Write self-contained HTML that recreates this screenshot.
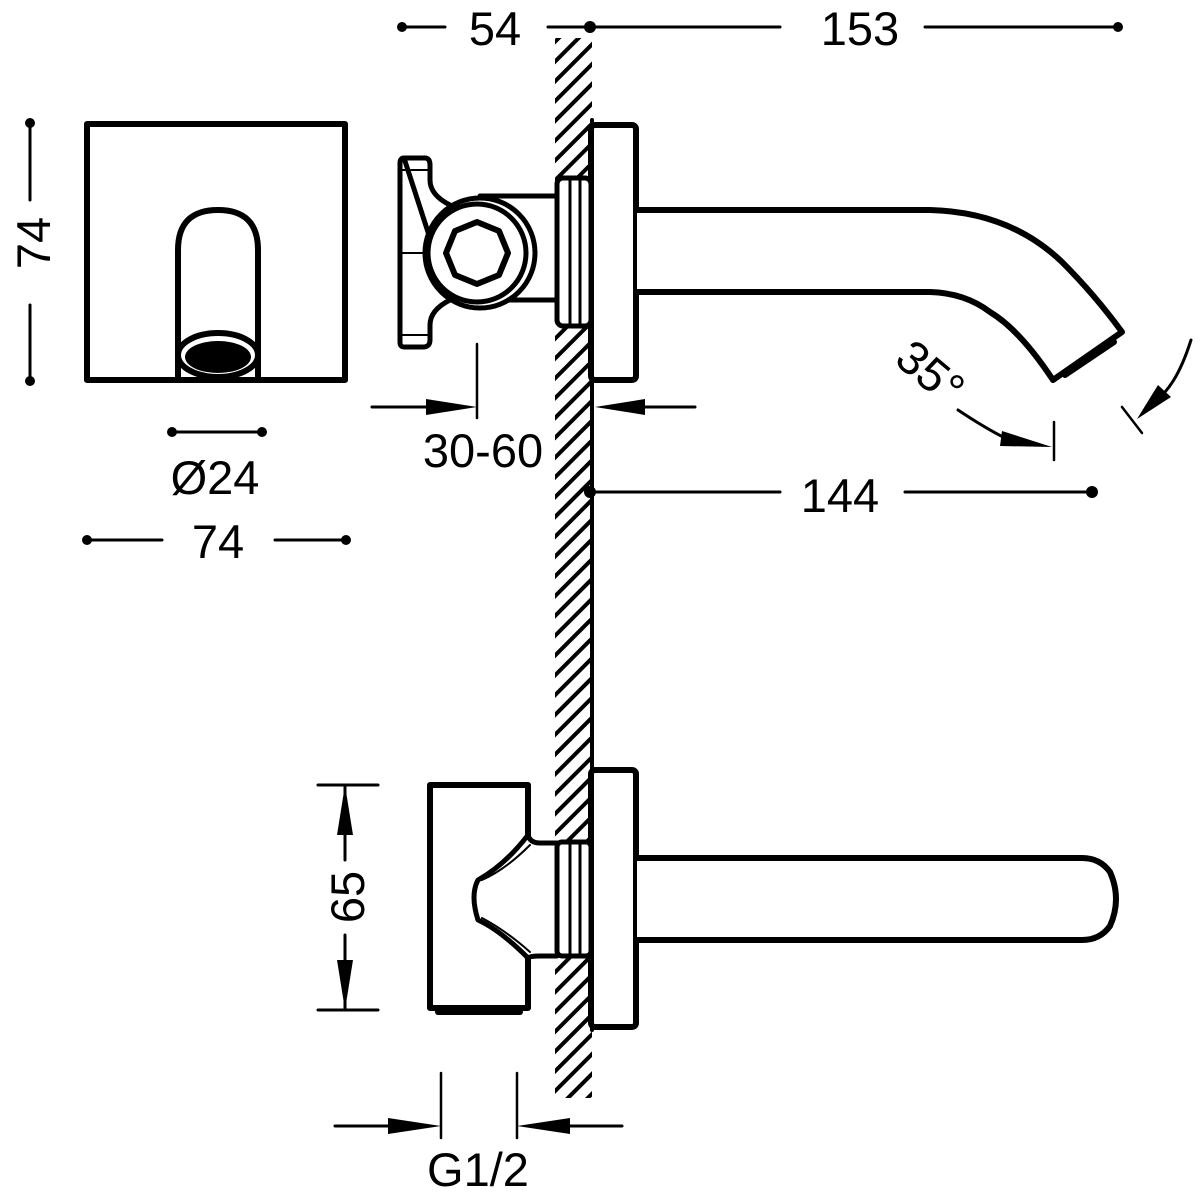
<!DOCTYPE html>
<html><head><meta charset="utf-8"><style>
html,body{margin:0;padding:0;background:#fff}
svg{display:block}
text{font-family:"Liberation Sans","DejaVu Sans",sans-serif;font-size:47px;fill:#000}
</style></head><body>
<svg width="1200" height="1200" viewBox="0 0 1200 1200" xmlns="http://www.w3.org/2000/svg">
<defs>
<pattern id="h" patternUnits="userSpaceOnUse" width="14" height="14" patternTransform="rotate(45)">
<rect x="0" y="0" width="4" height="14" fill="#000"/>
</pattern>
</defs>
<g fill="none" stroke="#000" stroke-linejoin="round" stroke-linecap="round">

<rect x="555" y="38" width="37" height="1060" fill="url(#h)" stroke="none"/>
<line x1="592" y1="120" x2="592" y2="1030" stroke-width="4"/>

<rect x="87" y="124" width="258" height="256" stroke-width="6"/>
<path d="M178 378 V250 Q178 210 218 210 Q258 210 258 250 V378" stroke-width="6"/>
<ellipse cx="218" cy="355" rx="40" ry="22" stroke-width="6" fill="#fff"/>
<ellipse cx="218" cy="357" rx="33" ry="16" fill="#000" stroke="none"/>

<circle cx="30" cy="123" r="5" fill="#000" stroke="none"/>
<circle cx="30" cy="381" r="5" fill="#000" stroke="none"/>
<line x1="30" y1="125" x2="30" y2="200" stroke-width="3"/>
<line x1="30" y1="305" x2="30" y2="380" stroke-width="3"/>
<circle cx="172" cy="432" r="5" fill="#000" stroke="none"/>
<circle cx="262" cy="432" r="5" fill="#000" stroke="none"/>
<line x1="172" y1="432" x2="262" y2="432" stroke-width="3"/>
<circle cx="87" cy="540" r="5" fill="#000" stroke="none"/>
<circle cx="346" cy="540" r="5" fill="#000" stroke="none"/>
<line x1="87" y1="540" x2="162" y2="540" stroke-width="3"/>
<line x1="275" y1="540" x2="346" y2="540" stroke-width="3"/>

<circle cx="402" cy="27" r="5" fill="#000" stroke="none"/>
<circle cx="590" cy="27" r="6" fill="#000" stroke="none"/>
<circle cx="1118" cy="27" r="5" fill="#000" stroke="none"/>
<line x1="402" y1="27" x2="445" y2="27" stroke-width="3"/>
<line x1="548" y1="27" x2="590" y2="27" stroke-width="3"/>
<line x1="590" y1="27" x2="780" y2="27" stroke-width="3"/>
<line x1="925" y1="27" x2="1118" y2="27" stroke-width="3"/>

<rect x="591" y="125" width="45" height="255" rx="4" stroke-width="6" fill="#fff"/>
<path d="M637 210 H930 Q1010 212 1062 262 Q1095 295 1122 332 L1053 380 Q1020 330 990 312 Q965 293 930 292 H637" stroke-width="6" fill="#fff"/>
<line x1="1065" y1="375" x2="1114" y2="342" stroke-width="6"/>
<rect x="557" y="178" width="34" height="148" rx="6" stroke-width="5" fill="#fff"/>
<line x1="570" y1="180" x2="570" y2="325" stroke-width="3"/>
<line x1="580" y1="180" x2="580" y2="325" stroke-width="3"/>
<rect x="480" y="196" width="77" height="104" stroke-width="5" fill="#fff"/>
<path d="M404 158 H425 Q430 158 430 165 V180 Q430 195 450 205 M450 300 Q430 310 430 325 V340 Q430 347 423 347 H404 Q400 347 400 342 V163 Q400 158 404 158 Z" stroke-width="5" fill="#fff"/>
<line x1="400" y1="170" x2="428" y2="170" stroke-width="2"/>
<line x1="400" y1="335" x2="428" y2="335" stroke-width="2"/>
<line x1="400" y1="253" x2="425" y2="253" stroke-width="2"/>
<circle cx="480" cy="253" r="55" stroke-width="5" fill="#fff"/>
<circle cx="477" cy="253" r="49" stroke-width="5" fill="#fff"/>
<polygon points="477,222 499,231 508,253 499,275 477,284 455,275 446,253 455,231" stroke-width="6"/>

<line x1="477" y1="344" x2="477" y2="418" stroke-width="2.5"/>
<line x1="372" y1="407" x2="440" y2="407" stroke-width="3"/>
<polygon points="426,399 477,407 426,415" fill="#000" stroke="none"/>
<line x1="645" y1="407" x2="695" y2="407" stroke-width="3"/>
<polygon points="645,399 595,407 645,415" fill="#000" stroke="none"/>

<circle cx="590" cy="492" r="6" fill="#000" stroke="none"/>
<circle cx="1092" cy="492" r="6" fill="#000" stroke="none"/>
<line x1="590" y1="492" x2="780" y2="492" stroke-width="3"/>
<line x1="905" y1="492" x2="1092" y2="492" stroke-width="3"/>

<path d="M958 410 Q985 428 1005 438" stroke-width="3"/>
<polygon points="1002,431 1052,447 1000,446" fill="#000" stroke="none"/>
<line x1="1054" y1="422" x2="1054" y2="460" stroke-width="2.5"/>
<path d="M1191 340 Q1180 375 1165 392" stroke-width="3"/>
<polygon points="1158,385 1137,419 1171,397" fill="#000" stroke="none"/>
<line x1="1122" y1="407" x2="1142" y2="433" stroke-width="2.5"/>

<rect x="591" y="770" width="45" height="257" rx="4" stroke-width="6" fill="#fff"/>
<path d="M637 858 H1082 Q1100 858 1110 872 Q1122 899 1110 926 Q1100 940 1082 940 H637" stroke-width="6" fill="#fff"/>
<path d="M528 835 V785 H430 V1008 H528 V958" stroke-width="6"/>
<line x1="438" y1="1012" x2="520" y2="1012" stroke-width="6"/>
<rect x="557" y="842" width="34" height="114" rx="5" stroke-width="5" fill="#fff"/>
<line x1="570" y1="845" x2="570" y2="955" stroke-width="3"/>
<line x1="580" y1="845" x2="580" y2="955" stroke-width="3"/>
<path d="M528 835 Q530 843 540 843 H557 M557 956 H540 Q530 956 528 958 Q500 930 478 920 Q470 895 478 880 Q505 865 528 835" stroke-width="5"/>
<path d="M482 880 Q505 870 530 845 M482 918 Q505 930 530 952" stroke-width="2"/>

<line x1="318" y1="785" x2="378" y2="785" stroke-width="3"/>
<line x1="318" y1="1010" x2="378" y2="1010" stroke-width="3"/>
<line x1="345" y1="785" x2="345" y2="860" stroke-width="3"/>
<line x1="345" y1="935" x2="345" y2="1010" stroke-width="3"/>
<polygon points="345,785 337,835 353,835" fill="#000" stroke="none"/>
<polygon points="345,1010 337,960 353,960" fill="#000" stroke="none"/>

<line x1="441" y1="1073" x2="441" y2="1138" stroke-width="2.5"/>
<line x1="517" y1="1073" x2="517" y2="1138" stroke-width="2.5"/>
<line x1="335" y1="1126" x2="400" y2="1126" stroke-width="3"/>
<polygon points="388,1118 441,1126 388,1134" fill="#000" stroke="none"/>
<line x1="560" y1="1126" x2="622" y2="1126" stroke-width="3"/>
<polygon points="570,1118 517,1126 570,1134" fill="#000" stroke="none"/>
</g>

<text x="495" y="45" text-anchor="middle">54</text>
<text x="860" y="45" text-anchor="middle">153</text>
<text transform="translate(50,243) rotate(-90)" text-anchor="middle">74</text>
<text x="215" y="494" text-anchor="middle">Ø24</text>
<text x="218" y="558" text-anchor="middle">74</text>
<text x="483" y="467" text-anchor="middle">30-60</text>
<text x="840" y="512" text-anchor="middle">144</text>
<text transform="translate(920,385) rotate(40)" text-anchor="middle">35°</text>
<text transform="translate(364,897) rotate(-90)" text-anchor="middle">65</text>
<text x="478" y="1186" text-anchor="middle">G1/2</text>
</svg>
</body></html>
